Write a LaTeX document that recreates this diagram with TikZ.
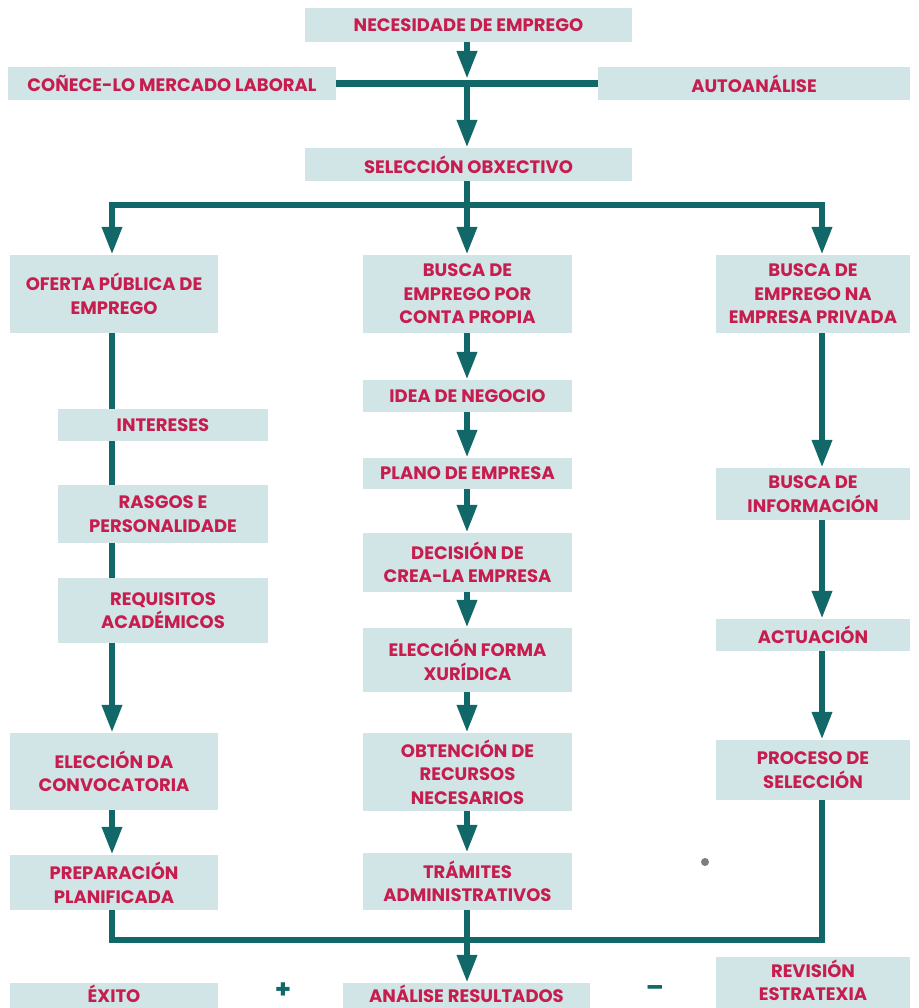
\documentclass[tikz,border=0pt]{standalone}
\usepackage{fontspec}
\setmainfont{Poppins}
\usetikzlibrary{arrows.meta}
\definecolor{boxfill}{RGB}{209,228,230}
\definecolor{tealc}{RGB}{18,104,104}
\definecolor{txtc}{RGB}{199,28,78}
\definecolor{dotc}{RGB}{125,125,125}
\newcommand\mybox[6]{\node[box, minimum width={(#4-#2)*1pt}, minimum height={(#5-#3)*1pt}] (#1) at ({(#2+#4)/2},{(#3+#5)/2}) {#6};}
\begin{document}
\begin{tikzpicture}[x=1pt,y=-1pt,
  box/.style={fill=boxfill, draw=none, text=txtc, font=\fontsize{18}{23.5}\selectfont\bfseries, align=center, inner sep=0pt},
  ln/.style={draw=tealc, line width=6.5pt},
  ar/.style={ln, -{Triangle[width=19pt,length=28pt]}},
  sign/.style={text=tealc, font=\fontsize{26}{26}\selectfont\bfseries, inner sep=0pt}]
\useasboundingbox[fill=white] (0,0) rectangle (918,1008);
% columns / junctions
\coordinate (colL) at (112,0);
\coordinate (colM) at (467,0);
\coordinate (colR) at (822,0);
\coordinate (jtop) at (467,84);
\coordinate (jtip) at (467,79);
\coordinate (jmid) at (467,205);
\coordinate (jbot) at (467,940);
% boxes
\mybox{nec}{305}{8}{632}{42}{NECESIDADE DE EMPREGO}
\mybox{con}{8}{67}{336}{100}{COÑECE-LO MERCADO LABORAL}
\mybox{aut}{598}{67}{910}{100}{AUTOANÁLISE}
\mybox{sel}{305}{148}{632}{181}{SELECCIÓN OBXECTIVO}
\mybox{ofe}{10}{255}{218}{333}{OFERTA PÚBLICA DE\\EMPREGO}
\mybox{bcp}{363}{255}{572}{333}{BUSCA DE\\EMPREGO POR\\CONTA PROPIA}
\mybox{bep}{716}{255}{910}{333}{BUSCA DE\\EMPREGO NA\\EMPRESA PRIVADA}
\mybox{int}{58}{409}{268}{441}{INTERESES}
\mybox{ras}{58}{485}{268}{543}{RASGOS E\\PERSONALIDADE}
\mybox{req}{58}{578}{268}{643}{REQUISITOS\\ACADÉMICOS}
\mybox{elc}{10}{733}{218}{810}{ELECCIÓN DA\\CONVOCATORIA}
\mybox{pre}{10}{855}{218}{910}{PREPARACIÓN\\PLANIFICADA}
\mybox{ide}{363}{380}{572}{412}{IDEA DE NEGOCIO}
\mybox{pla}{363}{458}{572}{489}{PLANO DE EMPRESA}
\mybox{dec}{363}{533}{572}{592}{DECISIÓN DE\\CREA-LA EMPRESA}
\mybox{elf}{363}{628}{572}{692}{ELECCIÓN FORMA\\XURÍDICA}
\mybox{obt}{363}{733}{572}{811}{OBTENCIÓN DE\\RECURSOS\\NECESARIOS}
\mybox{tra}{363}{853}{572}{910}{TRÁMITES\\ADMINISTRATIVOS}
\mybox{bin}{716}{468}{910}{520}{BUSCA DE\\INFORMACIÓN}
\mybox{act}{716}{619}{910}{651}{ACTUACIÓN}
\mybox{pro}{716}{740}{910}{800}{PROCESO DE\\SELECCIÓN}
\mybox{exi}{10}{983}{218}{1004}{ÉXITO}
\mybox{ana}{343}{983}{590}{1004}{ANÁLISE RESULTADOS}
\mybox{rev}{716}{957}{910}{1004}{REVISIÓN\\ESTRATEXIA}
\fill[boxfill] (exi.south west) rectangle ([yshift=-4pt]exi.south east);
\fill[boxfill] (ana.south west) rectangle ([yshift=-4pt]ana.south east);
\fill[boxfill] (rev.south west) rectangle ([yshift=-4pt]rev.south east);
% signs and dot
\node[sign] (plus) at (283,991) {+};
\node[sign] (minus) at (655,991) {–};
\fill[dotc] (705,862) circle (4);
% connectors
\draw[ar] (nec.south -| colM) -- (jtip);
\draw[ln] (con.east) -- (aut.west);
\draw[ar] (jtop) -- (sel.north -| colM);
\draw[ln] (sel.south -| colM) -- (jmid);
\draw[ar] (jmid) -| (ofe.north -| colL);
\draw[ar] (jmid) -- (bcp.north -| colM);
\draw[ar] (jmid) -| (bep.north -| colR);
% left column
\draw[ln] (ofe.south -| colL) -- (int.north -| colL);
\draw[ln] (int.south -| colL) -- (ras.north -| colL);
\draw[ln] (ras.south -| colL) -- (req.north -| colL);
\draw[ar] (req.south -| colL) -- (elc.north -| colL);
\draw[ar] (elc.south -| colL) -- (pre.north -| colL);
% middle column
\draw[ar] (bcp.south -| colM) -- (ide.north -| colM);
\draw[ar] (ide.south -| colM) -- (pla.north -| colM);
\draw[ar] (pla.south -| colM) -- (dec.north -| colM);
\draw[ar] (dec.south -| colM) -- (elf.north -| colM);
\draw[ar] (elf.south -| colM) -- (obt.north -| colM);
\draw[ar] (obt.south -| colM) -- (tra.north -| colM);
% right column
\draw[ar] (bep.south -| colR) -- (bin.north -| colR);
\draw[ar] (bin.south -| colR) -- (act.north -| colR);
\draw[ar] (act.south -| colR) -- (pro.north -| colR);
% bottom
\draw[ln] (pre.south -| colL) |- (jbot);
\draw[ln] (pro.south -| colR) |- (jbot);
\draw[ar] (tra.south -| colM) -- (ana.north -| colM);
\end{tikzpicture}
\end{document}
